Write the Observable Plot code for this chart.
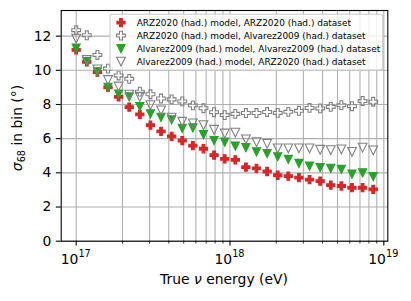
<!DOCTYPE html>
<html>
<head>
<meta charset="utf-8">
<script src="https://cdn.jsdelivr.net/npm/d3@7"></script>
<script src="https://cdn.jsdelivr.net/npm/@observablehq/plot@0.6"></script>
<style>
  html, body { margin: 0; padding: 0; background: white; }
  #chart svg { display: block; }
</style>
</head>
<body>
<div id="chart"></div>
<script>
// Energy bins (eV)
const energies = [1.000e17, 1.172e17, 1.374e17, 1.610e17, 1.887e17, 2.212e17, 2.593e17, 3.039e17, 3.562e17, 4.175e17,
  4.894e17, 5.736e17, 6.723e17, 7.880e17, 9.237e17, 1.083e18, 1.269e18, 1.487e18, 1.743e18, 2.043e18,
  2.395e18, 2.807e18, 3.290e18, 3.857e18, 4.520e18, 5.298e18, 6.210e18, 7.279e18, 8.532e18];

// sigma_68 in bin (deg)
const arzModelArzData = [11.2, 10.5, 9.9, 9.0, 8.45, 7.85, 7.42, 6.79, 6.43, 6.13,
  5.89, 5.59, 5.41, 5.04, 4.82, 4.76, 4.33, 4.26, 4.08, 3.86,
  3.81, 3.72, 3.60, 3.52, 3.28, 3.23, 3.13, 3.13, 3.03];
const arzModelAlvData = [12.35, 12.05, 10.9, 10.1, 9.7, 9.5, 8.75, 8.6, 8.35, 8.3,
  8.18, 7.95, 7.78, 7.55, 7.38, 7.45, 7.5, 7.5, 7.56, 7.51,
  7.57, 7.63, 7.8, 7.77, 7.86, 7.96, 7.9, 8.2, 8.16];
const alvModelAlvData = [11.3, 10.5, 9.9, 9.0, 8.6, 8.45, 7.88, 7.45, 7.25, 7.1,
  6.6, 6.63, 6.23, 5.88, 5.8, 5.56, 5.48, 5.23, 5.13, 4.94,
  4.78, 4.55, 4.39, 4.31, 4.26, 4.2, 3.92, 4.0, 3.77];
const alvModelArzData = [11.85, 10.6, 10.05, 9.43, 9.05, 8.58, 8.45, 7.96, 7.65, 7.23,
  6.99, 6.89, 6.79, 6.52, 6.3, 6.35, 5.96, 5.8, 5.7, 5.43,
  5.43, 5.43, 5.43, 5.35, 5.33, 5.37, 5.23, 5.47, 5.31];

const seriesNames = [
  "ARZ2020 (had.) model, ARZ2020 (had.) dataset",
  "ARZ2020 (had.) model, Alvarez2009 (had.) dataset",
  "Alvarez2009 (had.) model, Alvarez2009 (had.) dataset",
  "Alvarez2009 (had.) model, ARZ2020 (had.) dataset"
];
const seriesValues = [arzModelArzData, arzModelAlvData, alvModelAlvData, alvModelArzData];

const xMajorTicks = [1e17, 1e18, 1e19];
const xMinorTicks = [2e17, 3e17, 4e17, 5e17, 6e17, 7e17, 8e17, 9e17, 2e18, 3e18, 4e18, 5e18, 6e18, 7e18, 8e18, 9e18];
const yTicks = [0, 2, 4, 6, 8, 10, 12];

// custom symbols (matplotlib 'P' and 'v')
const plusSym = {draw(ctx, size) {
  const h = Math.sqrt(size / Math.PI), a = h / 3;
  ctx.moveTo(-a, -h); ctx.lineTo(a, -h); ctx.lineTo(a, -a); ctx.lineTo(h, -a);
  ctx.lineTo(h, a); ctx.lineTo(a, a); ctx.lineTo(a, h); ctx.lineTo(-a, h);
  ctx.lineTo(-a, a); ctx.lineTo(-h, a); ctx.lineTo(-h, -a); ctx.lineTo(-a, -a); ctx.closePath();
}};
const triDownSym = {draw(ctx, size) {
  const h = Math.sqrt(size / Math.PI);
  ctx.moveTo(-h, -h); ctx.lineTo(h, -h); ctx.lineTo(0, h); ctx.closePath();
}};

const styles = [
  {symbol: plusSym, fill: "#d62728", stroke: "#d62728", r: 4.1},
  {symbol: plusSym, fill: "none", stroke: "#808080", r: 4.4},
  {symbol: triDownSym, fill: "#2ca02c", stroke: "#2ca02c", r: 4.1},
  {symbol: triDownSym, fill: "none", stroke: "#808080", r: 4.4}
];

const tables = seriesValues.map((vals, k) => energies.map((e, i) => ({energy: e, sigma: vals[i], series: seriesNames[k]})));

const grey = "#b0b0b0";
const plot = Plot.plot({
  width: 411,
  height: 301,
  marginLeft: 60.7,
  marginRight: 23.7,
  marginTop: 10,
  marginBottom: 60.3,
  style: {fontFamily: "DejaVu Sans", fontSize: "13.9px", background: "white", color: "black"},
  x: {type: "log", domain: [Math.pow(10, 16.9025), Math.pow(10, 19.026)]},
  y: {domain: [0, 13.5]},
  marks: [
    Plot.gridX([...xMajorTicks, ...xMinorTicks], {stroke: grey, strokeOpacity: 1, strokeWidth: 1.1}),
    Plot.gridY(yTicks, {stroke: grey, strokeOpacity: 1, strokeWidth: 1.1}),
    ...tables.map((t, k) => Plot.dot(t, {
      x: "energy", y: "sigma",
      symbol: () => styles[k].symbol,
      r: styles[k].r,
      fill: styles[k].fill,
      stroke: styles[k].stroke,
      strokeWidth: 1.1
    })),
    Plot.frame({stroke: "black", strokeWidth: 1.1}),
    Plot.axisX(xMajorTicks, {tickSize: 4.9, strokeWidth: 1.1, tickFormat: () => "", label: null}),
    Plot.axisX(xMinorTicks, {tickSize: 2.8, strokeWidth: 0.8, tickFormat: () => "", label: null}),
    Plot.axisY(yTicks, {tickSize: 4.9, strokeWidth: 1.1, tickPadding: 4.9, fontSize: 13.9, label: null})
  ]
});

const svg = d3.select(plot);
const xs = plot.scale("x");

// x tick labels with superscripts
xMajorTicks.forEach(v => {
  const t = svg.append("text")
    .attr("x", xs.apply(v)).attr("y", 264)
    .attr("text-anchor", "middle")
    .attr("font-family", "DejaVu Sans").attr("font-size", 13.9).attr("fill", "black");
  t.append("tspan").text("10");
  t.append("tspan").attr("font-size", 9.7).attr("dy", -6.7).text(String(Math.round(Math.log10(v))));
});

// x label
const xl = svg.append("text")
  .attr("x", 224).attr("y", 284.3).attr("text-anchor", "middle")
  .attr("font-family", "DejaVu Sans").attr("font-size", 13.9).attr("fill", "black");
xl.append("tspan").text("True ");
xl.append("tspan").attr("font-style", "italic").text("ν");
xl.append("tspan").text(" energy (eV)");

// y label
const yl = svg.append("text")
  .attr("transform", "translate(22,128) rotate(-90)")
  .attr("text-anchor", "middle")
  .attr("font-family", "DejaVu Sans").attr("font-size", 13.9).attr("fill", "black");
yl.append("tspan").attr("font-style", "italic").text("σ");
yl.append("tspan").attr("font-size", 9.7).attr("dy", 2.6).text("68");
yl.append("tspan").attr("dy", -2.6).text(" in bin (°)");

// legend
const lg = svg.append("g");
lg.append("rect")
  .attr("x", 110).attr("y", 14.3).attr("width", 272.7).attr("height", 55.7).attr("rx", 2.5)
  .attr("fill", "white").attr("fill-opacity", 0.8).attr("stroke", "#cccccc").attr("stroke-width", 1.1);
const rowY = [22.7, 35.6, 48.7, 61.7];
seriesNames.forEach((name, k) => {
  const s = styles[k];
  lg.append("path")
    .attr("transform", `translate(121,${rowY[k]})`)
    .attr("d", d3.symbol(s.symbol, Math.PI * s.r * s.r)())
    .attr("fill", s.fill).attr("stroke", s.stroke).attr("stroke-width", 1.1);
  lg.append("text")
    .attr("x", 136.7).attr("y", rowY[k]).attr("dy", "0.36em")
    .attr("text-anchor", "start")
    .attr("font-family", "DejaVu Sans").attr("font-size", 8.95).attr("fill", "black")
    .text(name);
});

document.getElementById("chart").appendChild(plot);
</script>
</body>
</html>
